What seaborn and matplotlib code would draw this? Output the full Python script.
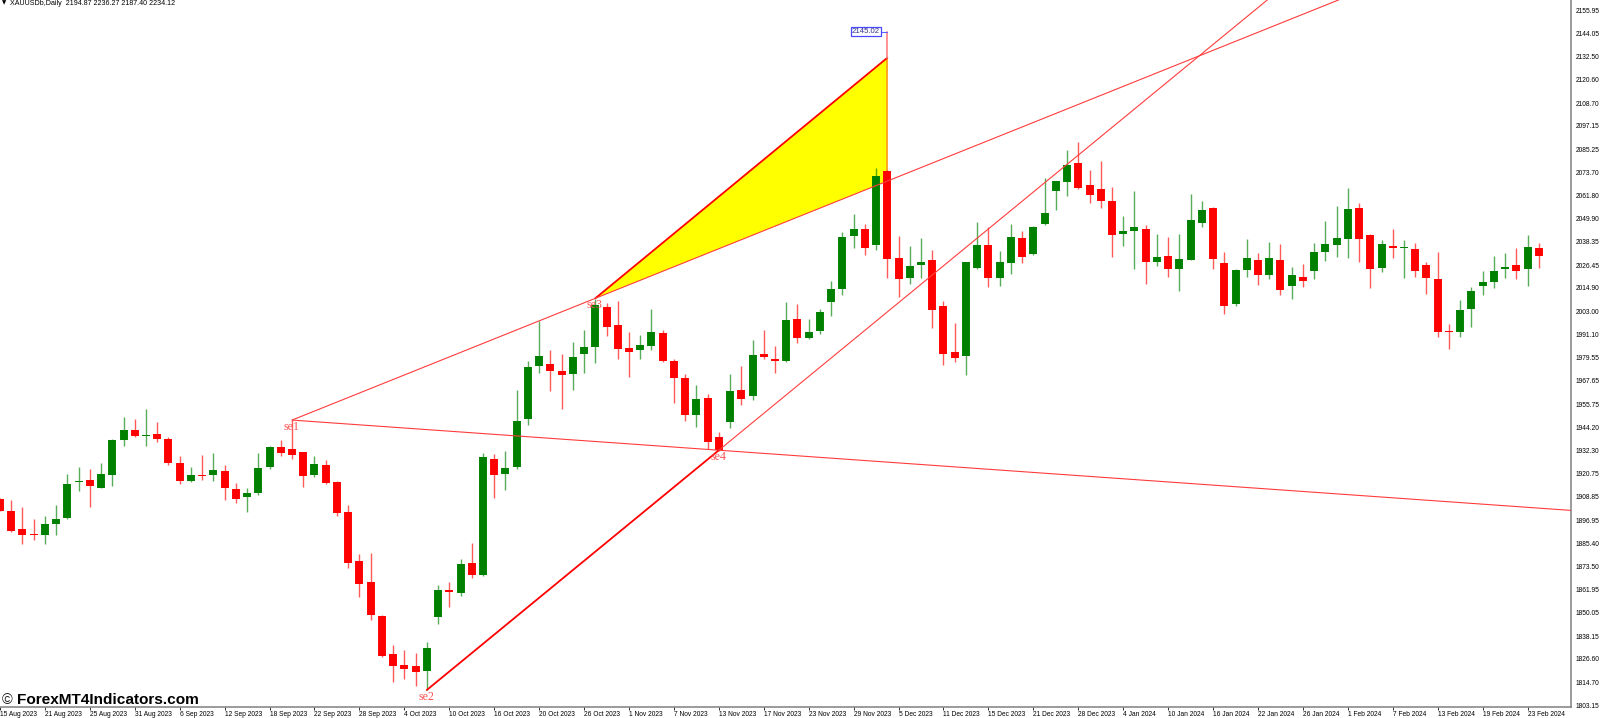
import matplotlib
matplotlib.use('Agg')
import matplotlib.pyplot as plt
import seaborn as sns
import pandas as pd

opens = [
    1907.7, 1901.6, 1892.3, 1890.0, 1889.6, 1895.0, 1897.9, 1916.5, 1917.4, 1913.5,
    1919.9, 1937.9, 1942.9, 1939.9, 1940.7, 1938.2, 1926.2, 1916.7, 1919.7, 1919.9,
    1921.9, 1912.6, 1908.9, 1910.9, 1924.1, 1934.0, 1932.9, 1931.6, 1919.9, 1925.2,
    1916.2, 1901.0, 1876.1, 1865.6, 1848.5, 1828.9, 1823.3, 1822.8, 1820.6, 1847.7,
    1861.7, 1860.2, 1875.1, 1869.0, 1928.2, 1920.4, 1923.8, 1948.2, 1975.2, 1976.1,
    1972.9, 1971.2, 1981.3, 1984.7, 2005.4, 1996.1, 1984.2, 1983.5, 1985.6, 1992.2,
    1977.8, 1969.0, 1950.2, 1959.0, 1939.4, 1946.7, 1963.2, 1959.8, 1981.5, 1978.7,
    1977.7, 1999.0, 1989.3, 1992.9, 2007.6, 2014.5, 2041.1, 2044.8, 2036.9, 2074.4,
    2029.9, 2019.8, 2026.5, 2028.9, 2005.7, 1982.2, 1980.5, 2025.0, 2036.6, 2019.7,
    2027.5, 2040.2, 2032.1, 2047.3, 2063.9, 2068.4, 2078.1, 2067.3, 2065.1, 2059.2,
    2042.4, 2043.6, 2044.8, 2028.2, 2030.9, 2024.6, 2029.0, 2047.8, 2055.2, 2027.7,
    2006.9, 2024.0, 2028.9, 2021.4, 2029.2, 2015.8, 2020.2, 2023.6, 2033.2, 2036.8,
    2039.7, 2055.2, 2041.7, 2025.0, 2036.0, 2035.3, 2034.4, 2026.6, 2019.5, 1993.0,
    1992.6, 2004.1, 2015.8, 2018.0, 2024.4, 2026.3, 2024.4, 2035.1,
]
closes = [
    1901.8, 1891.3, 1889.3, 1889.3, 1894.9, 1897.7, 1915.5, 1916.9, 1914.2, 1920.2,
    1937.7, 1942.6, 1939.9, 1940.2, 1938.2, 1926.0, 1916.7, 1919.7, 1919.2, 1922.6,
    1913.5, 1907.9, 1910.8, 1923.6, 1934.0, 1931.2, 1930.2, 1919.6, 1925.5, 1915.7,
    1900.6, 1875.1, 1864.8, 1848.7, 1827.9, 1823.1, 1821.3, 1820.1, 1832.1, 1861.7,
    1860.4, 1874.6, 1869.0, 1929.1, 1920.1, 1923.3, 1947.5, 1974.7, 1980.3, 1972.7,
    1970.7, 1980.0, 1985.1, 2006.2, 1994.9, 1984.0, 1982.4, 1985.7, 1992.5, 1977.6,
    1969.2, 1950.2, 1958.3, 1936.7, 1932.6, 1962.4, 1958.5, 1980.7, 1980.0, 1978.0,
    1998.6, 1989.5, 1992.5, 2002.5, 2014.4, 2040.9, 2044.7, 2035.0, 2071.7, 2029.4,
    2019.4, 2026.0, 2028.1, 2003.9, 1981.4, 1979.3, 2027.9, 2036.6, 2020.0, 2028.0,
    2040.9, 2030.7, 2045.9, 2053.0, 2069.0, 2077.3, 2065.6, 2062.2, 2059.0, 2041.9,
    2043.8, 2045.9, 2027.9, 2030.4, 2024.3, 2029.4, 2049.5, 2054.2, 2029.4, 2005.5,
    2024.1, 2029.9, 2021.4, 2030.2, 2013.6, 2021.6, 2018.4, 2033.1, 2037.3, 2040.2,
    2054.7, 2039.7, 2024.3, 2037.0, 2034.9, 2035.6, 2023.6, 2020.0, 1992.6, 1992.6,
    2003.8, 2013.4, 2018.0, 2023.3, 2025.5, 2023.6, 2035.8, 2031.0,
]
highs = [
    1908.1, 1907.2, 1903.8, 1897.4, 1899.1, 1904.7, 1920.4, 1923.8, 1922.8, 1926.2,
    1938.0, 1949.4, 1948.3, 1953.4, 1946.7, 1939.4, 1929.6, 1923.8, 1930.2, 1930.9,
    1924.8, 1915.9, 1913.1, 1930.9, 1934.6, 1937.7, 1947.8, 1931.8, 1929.6, 1927.5,
    1916.9, 1904.5, 1879.8, 1880.3, 1849.0, 1833.6, 1831.1, 1829.6, 1835.3, 1863.9,
    1865.6, 1877.5, 1885.2, 1931.3, 1930.6, 1932.1, 1962.9, 1977.8, 1997.9, 1983.4,
    1981.2, 1987.4, 1993.5, 2009.1, 2007.1, 2008.2, 1992.5, 1991.0, 2004.2, 1993.5,
    1978.6, 1971.2, 1965.8, 1961.0, 1941.9, 1971.2, 1975.4, 1988.3, 1993.6, 1985.4,
    2007.6, 2006.8, 1999.0, 2004.0, 2018.3, 2043.1, 2052.4, 2047.4, 2075.6, 2074.8,
    2041.3, 2036.0, 2040.3, 2034.2, 2008.1, 1997.1, 2028.2, 2048.1, 2045.9, 2033.7,
    2047.3, 2043.7, 2046.3, 2070.8, 2069.1, 2084.9, 2088.8, 2074.7, 2079.1, 2066.3,
    2051.4, 2064.1, 2046.6, 2042.1, 2040.6, 2042.1, 2062.4, 2059.0, 2055.8, 2033.1,
    2024.3, 2039.7, 2032.4, 2038.2, 2037.1, 2025.6, 2027.0, 2037.6, 2048.8, 2056.4,
    2065.6, 2057.8, 2042.4, 2039.2, 2044.8, 2039.0, 2037.5, 2027.8, 2033.1, 1996.5,
    2008.5, 2015.1, 2023.3, 2031.0, 2032.4, 2035.3, 2041.7, 2037.5,
]
lows = [
    1901.4, 1891.0, 1885.0, 1886.8, 1885.0, 1889.3, 1897.4, 1911.8, 1903.8, 1913.1,
    1914.5, 1934.8, 1939.0, 1934.5, 1936.7, 1925.2, 1915.3, 1916.4, 1917.4, 1916.7,
    1907.4, 1905.7, 1901.0, 1909.9, 1922.8, 1929.7, 1928.0, 1913.8, 1919.1, 1915.4,
    1899.3, 1872.6, 1858.0, 1846.5, 1827.4, 1815.0, 1816.5, 1813.0, 1810.8, 1844.5,
    1852.9, 1858.7, 1867.8, 1868.8, 1908.1, 1912.5, 1923.1, 1945.1, 1971.9, 1962.6,
    1953.4, 1963.1, 1971.9, 1976.9, 1990.6, 1978.6, 1969.7, 1978.6, 1983.4, 1977.3,
    1956.5, 1947.3, 1944.5, 1933.3, 1932.0, 1943.8, 1955.6, 1958.0, 1978.7, 1971.6,
    1977.3, 1987.1, 1989.1, 1991.7, 2000.7, 2011.5, 2035.3, 2031.5, 2034.0, 2020.1,
    2010.1, 2017.1, 2020.1, 1994.7, 1975.8, 1977.5, 1970.7, 2024.3, 2015.5, 2016.0,
    2021.7, 2027.5, 2031.5, 2046.6, 2054.4, 2061.4, 2065.1, 2058.2, 2055.6, 2030.7,
    2036.0, 2024.3, 2016.7, 2026.0, 2020.4, 2013.3, 2028.9, 2045.6, 2024.3, 2001.8,
    2005.9, 2020.6, 2016.4, 2019.5, 2011.1, 2009.2, 2015.6, 2019.4, 2028.8, 2030.5,
    2030.0, 2027.8, 2014.6, 2022.9, 2030.2, 2019.9, 2020.4, 2011.8, 1989.9, 1983.8,
    1989.9, 1995.0, 2011.2, 2015.0, 2019.9, 2019.5, 2016.0, 2025.0,
]

date_labels = [
    '15 Aug 2023', '21 Aug 2023', '25 Aug 2023', '31 Aug 2023', '6 Sep 2023', '12 Sep 2023',
    '18 Sep 2023', '22 Sep 2023', '28 Sep 2023', '4 Oct 2023', '10 Oct 2023', '16 Oct 2023',
    '20 Oct 2023', '26 Oct 2023', '1 Nov 2023', '7 Nov 2023', '13 Nov 2023', '17 Nov 2023',
    '23 Nov 2023', '29 Nov 2023', '5 Dec 2023', '11 Dec 2023', '15 Dec 2023', '21 Dec 2023',
    '28 Dec 2023', '4 Jan 2024', '10 Jan 2024', '16 Jan 2024', '22 Jan 2024', '26 Jan 2024',
    '1 Feb 2024', '7 Feb 2024', '13 Feb 2024', '19 Feb 2024', '23 Feb 2024',
]
price_ticks = [
    2155.95, 2144.05, 2132.50, 2120.60, 2108.70, 2097.15, 2085.25, 2073.70, 2061.80, 2049.90,
    2038.35, 2026.45, 2014.90, 2003.00, 1991.10, 1979.55, 1967.65, 1955.75, 1944.20, 1932.30,
    1920.75, 1908.85, 1896.95, 1885.40, 1873.50, 1861.95, 1850.05, 1838.15, 1826.60, 1814.70,
    1803.15,
]

# swing points as (bar index, price)
se1 = (26, 1947.8)
se2 = (38, 1810.8)
se3 = (53, 2009.6)
se4 = (64, 1932.5)
tip_bar = 79
tip_price = 2131.7
target_price = 2145.02
header = 'XAUUSDb,Daily  2194.87 2236.27 2187.40 2234.12'

RED = '#ff0000'
GREEN = '#008000'
X_MAX = 139.84


def ray_at(a, b, x):
    return a[1] + (b[1] - a[1]) * (x - a[0]) / (b[0] - a[0])


def candle_frame(first, second):
    rows = []
    for i, (o, c) in enumerate(zip(opens, closes)):
        side = 'up' if c >= o else 'down'
        rows.append([i, first[i], side])
        rows.append([i, second[i], side])
    return pd.DataFrame(rows, columns=['bar', 'price', 'side'])


sns.set_theme(style='white')
plt.rcParams['font.family'] = ['Liberation Sans', 'DejaVu Sans']

fig = plt.figure(figsize=(16, 7.18), dpi=100)
ax = fig.add_axes([0, 11 / 718, 1570.7 / 1600, 707 / 718])

palette = {'up': GREEN, 'down': RED}
sns.lineplot(data=candle_frame(highs, lows), x='bar', y='price', hue='side', units='bar',
             estimator=None, palette=palette, legend=False, linewidth=1.0, alpha=0.65,
             solid_capstyle='butt', zorder=3, ax=ax)
sns.lineplot(data=candle_frame(opens, closes), x='bar', y='price', hue='side', units='bar',
             estimator=None, palette=palette, legend=False, linewidth=5.7,
             solid_capstyle='butt', zorder=3.1, ax=ax)

# yellow wedge under the candles, lines on top of them
low_tip = ray_at(se1, se3, tip_bar)
ax.fill([se3[0], tip_bar, tip_bar], [se3[1], tip_price, low_tip], color='#ffff00', lw=0, zorder=2)
ax.plot([se3[0], tip_bar], [se3[1], tip_price], color=RED, lw=1.3, zorder=4)

thin = dict(color='#ff3c3c', lw=0.8, zorder=4)
ax.plot([se1[0], X_MAX], [se1[1], ray_at(se1, se3, X_MAX)], **thin)
ax.plot([se1[0], X_MAX], [se1[1], ray_at(se1, se4, X_MAX)], **thin)
ax.plot([se2[0], se4[0]], [se2[1], se4[1]], color=RED, lw=1.3, zorder=4)
ax.plot([se4[0], X_MAX], [se4[1], ray_at(se2, se4, X_MAX)], **thin)
ax.plot([tip_bar, tip_bar], [target_price, tip_price], color='#ff8080', lw=1.2, zorder=4)
ax.plot([tip_bar, tip_bar], [tip_price, low_tip], color='#ffa020', lw=1.3, zorder=2.5)
ax.plot([77.5, tip_bar], [target_price, target_price], color='#6060ff', lw=0.8, zorder=4)
ax.text(77.1, target_price, f'{target_price:.2f}', fontsize=5.6, color='#303090', ha='center',
        va='center', zorder=5,
        bbox=dict(boxstyle='square,pad=0.12', fc='white', ec='#4848ff', lw=0.9))

label_style = dict(family=['Liberation Serif'], fontsize=8.6, color='#ff5050', ha='center',
                   va='center', zorder=5)
ax.text(25.95, 1944.3, 'se1', **label_style)
ax.text(37.95, 1807.2, 'se2', **label_style)
ax.text(52.9, 2006.0, 'se3', **label_style)
ax.text(64.0, 1929.0, 'se4', **label_style)

ax.set_xlim(0, X_MAX)
ax.set_ylim(1802.16, 2161.03)

ax.yaxis.tick_right()
ax.set_yticks(price_ticks)
ax.set_yticklabels([f'{p:.2f}' for p in price_ticks], fontsize=4.8, color='black')
ax.set_xticks(range(0, 4 * len(date_labels), 4))
ax.set_xticklabels(date_labels, fontsize=4.8, color='black', ha='left')
ax.tick_params(axis='y', length=2, width=0.7, color='#303030', pad=1.4, right=True)
ax.tick_params(axis='x', length=2, width=0.7, color='#303030', pad=0.8, bottom=True)
ax.set_xlabel('')
ax.set_ylabel('')

sns.despine(ax=ax, left=True, top=True, right=False, bottom=False)
for side in ['right', 'bottom']:
    ax.spines[side].set_color('#808080')
    ax.spines[side].set_linewidth(1.1)

fig.text(10 / 1600, 1 - 3.2 / 718, header, fontsize=5.1, color='black', va='center', ha='left')
fig.text(4 / 1600, 1 - 3.2 / 718, '\u25bc', fontsize=4, color='black', va='center', ha='center',
         family=['DejaVu Sans'])
fig.text(1.5 / 1600, 1 - 700 / 718, '\u00a9', fontsize=10.5, color='#202020', va='center', ha='left')
fig.text(16.5 / 1600, 1 - 700 / 718, 'ForexMT4Indicators.com', fontsize=11.1, fontweight='bold',
         color='black', va='center', ha='left')

fig.savefig('out.png', dpi=100)
